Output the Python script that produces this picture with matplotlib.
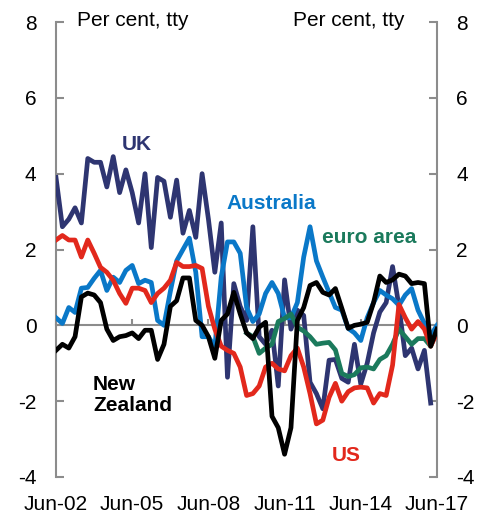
import numpy as np
import pandas as pd
import matplotlib
matplotlib.use("Agg")
import matplotlib.pyplot as plt

plt.rcParams['font.family'] = ['Liberation Sans', 'DejaVu Sans']
plt.rcParams['font.size'] = 15
plt.rcParams['axes.unicode_minus'] = False

# Quarterly, Jun-02 to Jun-17
dates = pd.date_range('2002-06-30', periods=61, freq='QE')

uk = [3.9, 2.6, 2.8, 3.1, 2.7, 4.4, 4.3, 4.3, 3.65, 4.45,
      3.5, 4.1, 3.5, 2.7, 4.0, 2.05, 3.9, 3.8, 2.85, 3.83,
      2.43, 3.03, 2.32, 4.0, 2.8, 1.4, 2.7, -1.37, 1.1, 0.5,
      0.13, 2.6, -0.3, -0.5, -0.13, -1.6, 1.2, -0.1, 0.4, 0.26,
      -1.5, -1.8, -2.2, -0.92, -0.9, -1.4, -1.5, -0.5, -1.55, -1.0,
      -0.2, 0.35, 0.6, 1.55, 0.5, -0.8, -0.6, -1.15, -0.66, -2.05,
      np.nan]

australia = [0.2, 0.05, 0.47, 0.34, 0.98, 1.0, 1.24, 1.45, 0.92, 1.27,
             1.13, 1.45, 1.58, 1.1, 1.19, 1.13, 0.13, 0.0, 0.9, 1.7,
             2.0, 2.3, 1.4, -0.3, -0.3, -0.58, 1.27, 2.2, 2.2, 1.9,
             0.47, 0.1, 0.3, 0.84, 1.13, 0.84, 0.2, 0.2, 0.6, 1.8,
             2.6, 1.7, 1.27, 0.87, 0.47, 0.4, -0.08, -0.2, -0.4, 0.2,
             0.6, 0.92, 0.8, 0.7, 0.53, 0.8, 0.97, 0.4, 0.05, -0.27,
             0.0]

euro_area = [np.nan] * 30 + [
    -0.2, -0.3, -0.74, -0.6, -0.5, 0.1, 0.18, 0.3, -0.05, -0.15,
    -0.3, -0.5, -0.47, -0.45, -0.65, -1.27, -1.35, -1.3, -1.12, -1.1,
    -1.15, -0.9, -0.8, -0.5, -0.1, -0.3, -0.5, -0.35, -0.35, -0.55,
    -0.13]

us = [2.25, 2.37, 2.25, 2.25, 1.8, 2.25, 1.9, 1.53, 1.4, 1.19,
      0.84, 0.58, 0.98, 0.98, 0.92, 0.6, 0.84, 0.98, 1.19, 1.66,
      1.55, 1.55, 1.58, 1.5, 0.5, -0.1, -0.55, -0.66, -0.74, -1.1,
      -1.85, -1.8, -1.6, -1.1, -1.0, -1.15, -1.2, -0.8, -0.6, -1.1,
      -1.8, -2.6, -2.5, -1.9, -1.53, -2.0, -1.75, -1.65, -1.63, -1.65,
      -2.05, -1.8, -1.85, -1.05, 0.55, 0.2, -0.1, 0.1, -0.1, -0.55,
      -0.2]

new_zealand = [-0.66, -0.5, -0.6, -0.3, 0.75, 0.85, 0.8, 0.6, -0.1, -0.4,
               -0.3, -0.27, -0.2, -0.35, -0.13, -0.13, -0.9, -0.5, 0.5, 0.65,
               1.25, 1.25, 0.13, 0.0, -0.3, -0.87, 0.13, 0.3, 0.87, 0.3,
               -0.2, -0.35, -0.05, 0.08, -2.4, -2.7, -3.4, -2.7, 0.13, 0.47,
               1.05, 1.13, 0.87, 0.8, 0.97, 0.45, -0.08, 0.0, 0.03, 0.08,
               0.6, 1.3, 1.13, 1.2, 1.35, 1.3, 1.1, 1.13, 1.1, -0.55,
               -0.1]

tick_dates = pd.to_datetime(['2002-06-30', '2005-06-30', '2008-06-30',
                             '2011-06-30', '2014-06-30', '2017-06-30'])
tick_labels = ['Jun-02', 'Jun-05', 'Jun-08', 'Jun-11', 'Jun-14', 'Jun-17']
y_ticks = [-4, -2, 0, 2, 4, 6, 8]

grey = '#8c8c8c'
c_uk = '#2e3571'
c_aus = '#0a78c8'
c_euro = '#1b7a5c'
c_us = '#e2281c'
c_nz = '#000000'

fig = plt.figure(figsize=(4.89, 5.23), dpi=100)
ax = fig.add_axes([56 / 489, 1 - 477 / 523, 381 / 489, 455 / 523])

lw = 3.4
ax.plot(dates, uk, color=c_uk, lw=lw, zorder=3)
ax.plot(dates, australia, color=c_aus, lw=lw, zorder=4)
ax.plot(dates, euro_area, color=c_euro, lw=lw, zorder=5)
ax.plot(dates, us, color=c_us, lw=lw, zorder=6)
ax.plot(dates, new_zealand, color=c_nz, lw=lw, zorder=7)

ax.set_xlim(dates[0], dates[-1])
ax.set_ylim(-4, 8)

# y axes on both sides, ticks inward
ax.set_yticks(y_ticks)
ax.tick_params(axis='y', which='both', direction='in', length=6, width=1.5,
               color=grey, left=True, right=True, labelleft=True,
               labelright=True, pad=14)
for side in ['left', 'right']:
    ax.spines[side].set_color(grey)
    ax.spines[side].set_linewidth(1.5)
ax.spines['top'].set_visible(False)

# zero line with small upward x ticks
ax.spines['bottom'].set_position(('data', 0))
ax.spines['bottom'].set_color(grey)
ax.spines['bottom'].set_linewidth(1.5)
ax.set_xticks(tick_dates)
ax.tick_params(axis='x', direction='in', length=4, width=1.5, color=grey,
               labelbottom=False)

sec = ax.secondary_xaxis('bottom')
sec.set_xticks(tick_dates, tick_labels)
sec.spines['bottom'].set_visible(False)
sec.tick_params(length=0, pad=13)

ax.text(0.055, 1.004, 'Per cent, tty', transform=ax.transAxes,
        ha='left', va='center')
ax.text(0.916, 1.004, 'Per cent, tty', transform=ax.transAxes,
        ha='right', va='center')

bold = dict(fontweight='bold', transform=ax.transAxes)
ax.text(0.213, 0.730, 'UK', color=c_uk, ha='center', va='center', **bold)
ax.text(0.564, 0.602, 'Australia', color=c_aus, ha='center', va='center', **bold)
ax.text(0.823, 0.527, 'euro area', color=c_euro, ha='center', va='center', **bold)
ax.text(0.097, 0.180, 'New\nZealand', color=c_nz, ha='left', va='center',
        linespacing=1.1, **bold)
ax.text(0.761, 0.048, 'US', color=c_us, ha='center', va='center', **bold)

fig.savefig('out.png', dpi=100)
